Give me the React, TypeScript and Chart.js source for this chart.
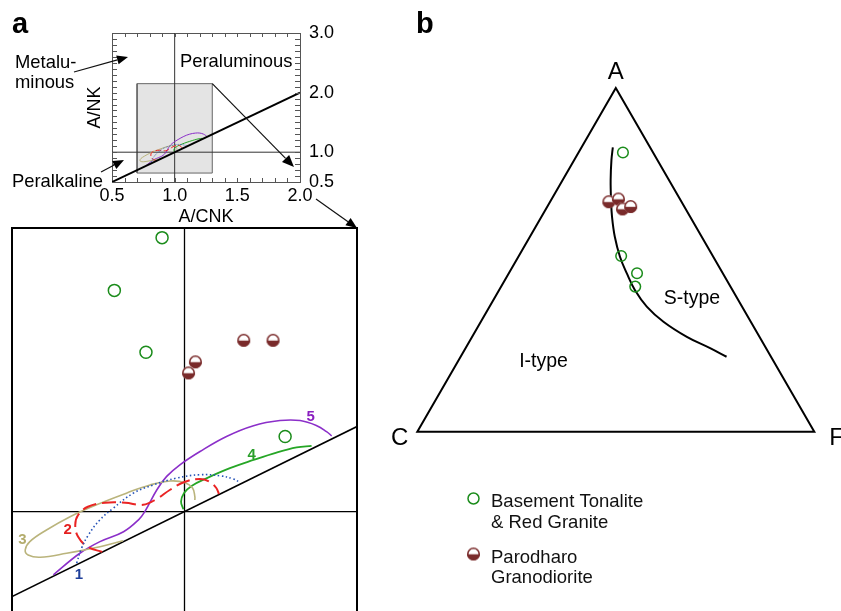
import React, { useEffect, useRef } from "react";
import { Chart, registerables } from "chart.js";

Chart.register(...registerables);

const FONT = "'Liberation Sans', Arial, Helvetica, sans-serif";

// ===== Panel a : A/CNK vs A/NK =====
const insetXTicks = [0.5, 1.0, 1.5, 2.0];
const insetYTicks = [0.5, 1.0, 2.0, 3.0];
const insetXRange = [0.5, 2.0];
const insetYRange = [0.5, 3.0];
const minorTickStep = 0.1;
const zoomBoxX = [0.7, 1.3];
const zoomBoxY = [0.65, 2.15];
const zoomXRange = [0.7, 1.3];
const zoomYRange = [0.6, 2.0];
const refValue = 1.0;

const tonaliteACNK = [0.961, 0.878, 0.933, 1.175];
const tonaliteANK = [1.966, 1.78, 1.562, 1.265];
const parodharoACNK = [1.103, 1.154, 1.019, 1.007];
const parodharoANK = [1.604, 1.604, 1.528, 1.489];

const trend1X = [0.8125, 0.821, 0.833, 0.853, 0.876, 0.911, 0.946, 0.986, 1.027, 1.062, 1.085, 1.097];
const trend1Y = [0.818, 0.871, 0.918, 0.971, 1.012, 1.065, 1.094, 1.118, 1.13, 1.126, 1.115, 1.102];
const trend2X = [0.857, 0.832, 0.815, 0.81, 0.815, 0.832, 0.862, 0.897, 0.928, 0.952, 0.975, 1.001, 1.027, 1.044, 1.055, 1.06];
const trend2Y = [0.858, 0.875, 0.911, 0.953, 0.988, 1.017, 1.031, 1.031, 1.024, 1.045, 1.077, 1.105, 1.115, 1.105, 1.084, 1.062];
const trend3X = [0.893, 0.853, 0.795, 0.749, 0.728, 0.723, 0.731, 0.76, 0.801, 0.847, 0.899, 0.94, 0.975, 1.001, 1.014, 1.018, 1.018];
const trend3Y = [0.897, 0.876, 0.853, 0.839, 0.847, 0.865, 0.894, 0.935, 0.982, 1.024, 1.065, 1.094, 1.108, 1.102, 1.083, 1.053, 1.041];
const trend4X = [0.998, 0.994, 0.999, 1.013, 1.039, 1.079, 1.12, 1.16, 1.195, 1.221];
const trend4Y = [1.008, 1.035, 1.065, 1.091, 1.118, 1.153, 1.182, 1.208, 1.226, 1.232];
const trend5X = [0.772, 0.818, 0.853, 0.894, 0.92, 0.931, 0.952, 0.969, 0.992, 1.027, 1.073, 1.12, 1.166, 1.201, 1.23, 1.247, 1.256];
const trend5Y = [0.777, 0.853, 0.894, 0.929, 0.971, 1.0, 1.077, 1.124, 1.165, 1.212, 1.265, 1.303, 1.321, 1.321, 1.303, 1.282, 1.267];

const trendLabels = ["1", "2", "3", "4", "5"];
const trendLabelX = [0.8165, 0.797, 0.718, 1.117, 1.2195];
const trendLabelY = [0.78, 0.939, 0.905, 1.204, 1.339];

// ===== Panel b : ACF ternary (%) =====
const bTonaliteA = [81.2, 51.1, 46.1, 42.2];
const bTonaliteC = [7.6, 23.1, 21.6, 24.0];
const bTonaliteF = [11.2, 25.8, 32.3, 33.8];
const bParodharoA = [66.9, 67.7, 64.8, 65.5];
const bParodharoC = [18.3, 15.5, 15.9, 13.5];
const bParodharoF = [14.8, 16.8, 19.3, 21.0];
const boundaryA = [82.7, 79.0, 73.2, 67.4, 62.5, 56.7, 50.9, 46.1, 41.2, 36.4, 32.0, 27.6, 24.3, 21.8];
const boundaryC = [9.4, 11.6, 14.7, 17.5, 19.7, 21.9, 23.5, 24.2, 24.6, 24.0, 22.0, 18.3, 14.1, 11.2];
const boundaryF = [7.9, 9.4, 12.1, 15.1, 17.8, 21.4, 25.6, 29.7, 34.2, 39.6, 46.0, 54.1, 61.6, 67.0];
const triangleA = [0, 0, 100, 0, 0];
const triangleC = [100, 0, 0, 100, 0];
const triangleF = [0, 100, 0, 0, 100];
const fieldLabels = ["I-type", "S-type"];
const fieldLabelA = [20.6, 39.0];
const fieldLabelC = [57.9, 11.3];
const fieldLabelF = [21.5, 49.7];
const legendLabels = [["Basement Tonalite", "& Red Granite"], ["Parodharo", "Granodiorite"]];

// ===== styles =====
const GREEN = "#1b8c1b";
const BROWN = "#7a2b2b";
const trendStyles = [
  { color: "#2553b8", label: "#1f3f9a", width: 1.6, dash: [1.5, 2.5] },
  { color: "#ea2424", label: "#e42020", width: 2, dash: [14, 6] },
  { color: "#bab47c", label: "#b3ac6c", width: 1.6, dash: [] as number[] },
  { color: "#26a626", label: "#2a9f2a", width: 1.8, dash: [] as number[] },
  { color: "#8b2fc9", label: "#8a1fc0", width: 1.6, dash: [] as number[] },
];
const trendSeries = [
  [trend1X, trend1Y],
  [trend2X, trend2Y],
  [trend3X, trend3Y],
  [trend4X, trend4Y],
  [trend5X, trend5Y],
];

function pts(xs: number[], ys: number[]) {
  return xs.map((x, i) => ({ x, y: ys[i] }));
}
function tern(a: number, c: number, f: number) {
  const s = a + c + f;
  return { x: (f + a / 2) / s, y: ((a / s) * Math.sqrt(3)) / 2 };
}
function ternPts(A: number[], C: number[], F: number[]) {
  return A.map((a, i) => tern(a, C[i], F[i]));
}

function makeHalfMarker(d: number) {
  const c = document.createElement("canvas");
  const s = d + 2;
  c.width = s;
  c.height = s;
  const g = c.getContext("2d")!;
  const cx = s / 2;
  const r = d / 2;
  g.beginPath();
  g.arc(cx, cx, r, 0, Math.PI * 2);
  g.fillStyle = "#fff";
  g.fill();
  g.save();
  g.beginPath();
  g.arc(cx, cx, r, 0, Math.PI * 2);
  g.clip();
  g.fillStyle = BROWN;
  g.fillRect(0, cx + 0.3, s, s);
  g.restore();
  g.beginPath();
  g.arc(cx, cx, r - 0.8, 0, Math.PI * 2);
  g.strokeStyle = BROWN;
  g.lineWidth = 1.6;
  g.stroke();
  return c;
}

function arrow(ctx: CanvasRenderingContext2D, x1: number, y1: number, x2: number, y2: number, head = 11, w = 4.5) {
  const ang = Math.atan2(y2 - y1, x2 - x1);
  const bx = x2 - head * Math.cos(ang);
  const by = y2 - head * Math.sin(ang);
  ctx.beginPath();
  ctx.moveTo(x1, y1);
  ctx.lineTo(bx, by);
  ctx.stroke();
  ctx.beginPath();
  ctx.moveTo(x2, y2);
  ctx.lineTo(bx + w * Math.sin(ang), by - w * Math.cos(ang));
  ctx.lineTo(bx - w * Math.sin(ang), by + w * Math.cos(ang));
  ctx.closePath();
  ctx.fill();
}

function lineDs(data: any[], color: string, width: number, dash: number[], order: number, tension = 0, extra: any = {}) {
  return {
    type: "line",
    data,
    borderColor: color,
    borderWidth: width,
    borderDash: dash,
    pointRadius: 0,
    pointHoverRadius: 0,
    fill: false,
    tension,
    order,
    ...extra,
  };
}

const hiddenAxis = (pos: string, min: number, max: number, color: string, width: number) => ({
  type: "linear",
  position: pos,
  min,
  max,
  ticks: { display: false },
  grid: { display: false, drawTicks: false },
  border: { display: true, color, width },
  afterFit: (s: any) => {
    if (pos === "top" || pos === "bottom") s.height = 0;
    else s.width = 0;
  },
});

function makeInset(canvas: HTMLCanvasElement) {
  const datasets: any[] = [];
  datasets.push(lineDs([{ x: refValue, y: insetYRange[0] }, { x: refValue, y: insetYRange[1] }], "#333", 1, [], 2));
  datasets.push(lineDs([{ x: insetXRange[0], y: refValue }, { x: insetXRange[1], y: refValue }], "#333", 1, [], 2));
  datasets.push(lineDs([{ x: insetXRange[0], y: insetXRange[0] }, { x: insetXRange[1], y: insetXRange[1] }], "#000", 2, [], 1));
  trendSeries.forEach(([xs, ys], i) => {
    const st = trendStyles[i];
    datasets.push(lineDs(pts(xs, ys), st.color, 1, st.dash.map((d) => d / 2.5), 1, 0.4));
  });
  datasets.push(
    lineDs(
      [
        { x: zoomBoxX[0], y: zoomBoxY[0] },
        { x: zoomBoxX[1], y: zoomBoxY[0] },
        { x: zoomBoxX[1], y: zoomBoxY[1] },
        { x: zoomBoxX[0], y: zoomBoxY[1] },
        { x: zoomBoxX[0], y: zoomBoxY[0] },
      ],
      "#666",
      1,
      [],
      10,
      0,
      { fill: "shape", backgroundColor: "#e4e4e4" }
    )
  );

  const tickFont = { family: FONT, size: 18 };
  const plugin = {
    id: "insetDecor",
    afterDraw(chart: any) {
      const { ctx, chartArea: ca, scales } = chart;
      const x = scales.x;
      const y = scales.y;
      ctx.save();
      ctx.strokeStyle = "#555";
      ctx.lineWidth = 1;
      const nx = Math.round((insetXRange[1] - insetXRange[0]) / minorTickStep);
      for (let i = 1; i < nx; i++) {
        const px = Math.round(x.getPixelForValue(insetXRange[0] + i * minorTickStep)) + 0.5;
        ctx.beginPath();
        ctx.moveTo(px, ca.bottom);
        ctx.lineTo(px, ca.bottom - 4);
        ctx.moveTo(px, ca.top);
        ctx.lineTo(px, ca.top + 4);
        ctx.stroke();
      }
      const ny = Math.round((insetYRange[1] - insetYRange[0]) / minorTickStep);
      for (let i = 1; i < ny; i++) {
        const py = Math.round(y.getPixelForValue(insetYRange[0] + i * minorTickStep)) + 0.5;
        ctx.beginPath();
        ctx.moveTo(ca.left, py);
        ctx.lineTo(ca.left + 5, py);
        ctx.moveTo(ca.right, py);
        ctx.lineTo(ca.right - 5, py);
        ctx.stroke();
      }
      // annotations
      ctx.fillStyle = "#000";
      ctx.textBaseline = "alphabetic";
      ctx.textAlign = "left";
      ctx.font = `bold 29px ${FONT}`;
      ctx.fillText("a", 12, 33);
      ctx.font = `18.4px ${FONT}`;
      ctx.fillText("Metalu-", 15, 68);
      ctx.fillText("minous", 15, 88);
      ctx.fillText("Peraluminous", 180, 67);
      ctx.fillText("Peralkaline", 12, 187);
      ctx.strokeStyle = "#111";
      ctx.fillStyle = "#000";
      ctx.lineWidth = 1.2;
      arrow(ctx, 74, 72, 128, 57);
      arrow(ctx, 101, 172, 124, 160);
      arrow(ctx, x.getPixelForValue(zoomBoxX[1]), y.getPixelForValue(zoomBoxY[1]), x.getPixelForValue(1.952), y.getPixelForValue(0.752), 12, 5);
      arrow(ctx, 316, 199, 357, 228, 11, 4.5);
      ctx.restore();
    },
  };

  return new Chart(canvas, {
    type: "scatter",
    data: { datasets },
    options: {
      animation: false,
      responsive: false,
      devicePixelRatio: 1,
      events: [],
      layout: { autoPadding: false, padding: { left: 84, top: 33, right: 30, bottom: 4 } },
      plugins: { legend: { display: false }, tooltip: { enabled: false } },
      scales: {
        x: {
          type: "linear",
          position: "bottom",
          min: insetXRange[0],
          max: insetXRange[1],
          afterBuildTicks: (s: any) => {
            s.ticks = insetXTicks.map((v) => ({ value: v }));
          },
          ticks: { callback: (v: any) => Number(v).toFixed(1), font: tickFont, color: "#000", padding: 3, autoSkip: false, maxRotation: 0 },
          grid: { display: false, drawTicks: false },
          border: { display: true, color: "#555", width: 1 },
          title: { display: true, text: "A/CNK", font: tickFont, color: "#000", padding: 0 },
          afterFit: (s: any) => {
            s.height = 46;
          },
        },
        x2: hiddenAxis("top", insetXRange[0], insetXRange[1], "#555", 1),
        y: {
          type: "linear",
          position: "right",
          min: insetYRange[0],
          max: insetYRange[1],
          afterBuildTicks: (s: any) => {
            s.ticks = insetYTicks.map((v) => ({ value: v }));
          },
          ticks: { callback: (v: any) => Number(v).toFixed(1), font: tickFont, color: "#000", padding: 9, autoSkip: false },
          grid: { display: false, drawTicks: false },
          border: { display: true, color: "#555", width: 1 },
          afterFit: (s: any) => {
            s.width = 40;
          },
        },
        y2: {
          type: "linear",
          position: "left",
          min: insetYRange[0],
          max: insetYRange[1],
          ticks: { display: false },
          grid: { display: false, drawTicks: false },
          border: { display: true, color: "#555", width: 1 },
          title: { display: true, text: "A/NK", font: tickFont, color: "#000", padding: 0 },
          afterFit: (s: any) => {
            s.width = 28;
          },
        },
      },
    } as any,
    plugins: [plugin],
  } as any);
}

function makeZoom(canvas: HTMLCanvasElement, half: HTMLCanvasElement) {
  const datasets: any[] = [];
  datasets.push({
    type: "scatter",
    data: pts(tonaliteACNK, tonaliteANK),
    pointStyle: "circle",
    pointRadius: 6,
    borderColor: GREEN,
    borderWidth: 1.5,
    backgroundColor: "rgba(255,255,255,0)",
    order: 0,
  });
  datasets.push({
    type: "scatter",
    data: pts(parodharoACNK, parodharoANK),
    pointStyle: half,
    pointRadius: 7,
    order: 0,
  });
  trendSeries.forEach(([xs, ys], i) => {
    const st = trendStyles[i];
    datasets.push(lineDs(pts(xs, ys), st.color, st.width, st.dash, 1, 0.4));
  });
  datasets.push(lineDs([{ x: refValue, y: zoomYRange[0] }, { x: refValue, y: zoomYRange[1] }], "#000", 1.3, [], 3));
  datasets.push(lineDs([{ x: zoomXRange[0], y: refValue }, { x: zoomXRange[1], y: refValue }], "#000", 1.3, [], 3));
  datasets.push(lineDs([{ x: zoomXRange[0], y: zoomXRange[0] }, { x: zoomXRange[1], y: zoomXRange[1] }], "#000", 1.6, [], 2));

  const plugin = {
    id: "zoomLabels",
    afterDatasetsDraw(chart: any) {
      const { ctx, scales } = chart;
      ctx.save();
      ctx.font = `bold 15px ${FONT}`;
      ctx.textAlign = "center";
      ctx.textBaseline = "middle";
      trendLabels.forEach((t, i) => {
        ctx.fillStyle = trendStyles[i].label;
        ctx.fillText(t, scales.x.getPixelForValue(trendLabelX[i]), scales.y.getPixelForValue(trendLabelY[i]) + 1);
      });
      ctx.restore();
    },
  };

  return new Chart(canvas, {
    type: "scatter",
    data: { datasets },
    options: {
      animation: false,
      responsive: false,
      devicePixelRatio: 1,
      events: [],
      layout: { autoPadding: false, padding: { left: 12, top: 2, right: 13, bottom: 2 } },
      plugins: { legend: { display: false }, tooltip: { enabled: false } },
      scales: {
        x: hiddenAxis("bottom", zoomXRange[0], zoomXRange[1], "#000", 2),
        x2: hiddenAxis("top", zoomXRange[0], zoomXRange[1], "#000", 2),
        y: hiddenAxis("left", zoomYRange[0], zoomYRange[1], "#000", 2),
        y2: hiddenAxis("right", zoomYRange[0], zoomYRange[1], "#000", 2),
      },
    } as any,
    plugins: [plugin],
  } as any);
}

function makeTernary(canvas: HTMLCanvasElement, half: HTMLCanvasElement, OX: number) {
  const datasets: any[] = [];
  datasets.push({
    type: "scatter",
    data: ternPts(bTonaliteA, bTonaliteC, bTonaliteF),
    pointStyle: "circle",
    pointRadius: 5.3,
    borderColor: GREEN,
    borderWidth: 1.5,
    backgroundColor: "rgba(255,255,255,0)",
    order: 0,
    clip: false,
  });
  datasets.push({
    type: "scatter",
    data: ternPts(bParodharoA, bParodharoC, bParodharoF),
    pointStyle: half,
    pointRadius: 7,
    order: 0,
    clip: false,
  });
  datasets.push(lineDs(ternPts(boundaryA, boundaryC, boundaryF), "#000", 2, [], 1, 0.4, { clip: false }));
  datasets.push(lineDs(ternPts(triangleA, triangleC, triangleF), "#000", 2, [], 2, 0, { clip: false, borderJoinStyle: "miter" }));

  const plugin = {
    id: "ternDecor",
    afterDraw(chart: any) {
      const { ctx, scales } = chart;
      const P = (a: number, c: number, f: number) => {
        const t = tern(a, c, f);
        return [scales.x.getPixelForValue(t.x), scales.y.getPixelForValue(t.y)];
      };
      ctx.save();
      ctx.fillStyle = "#000";
      ctx.textBaseline = "alphabetic";
      ctx.textAlign = "left";
      ctx.font = `bold 29px ${FONT}`;
      ctx.fillText("b", 416 - OX, 33);
      ctx.font = `24px ${FONT}`;
      ctx.textBaseline = "middle";
      const [ax, ay] = P(100, 0, 0);
      ctx.textAlign = "center";
      ctx.fillText("A", ax, ay - 15.5);
      const [cx, cy] = P(0, 100, 0);
      ctx.textAlign = "right";
      ctx.fillText("C", cx - 9, cy + 6.5);
      const [fx, fy] = P(0, 0, 100);
      ctx.textAlign = "left";
      ctx.fillText("F", fx + 15, fy + 6.5);
      ctx.font = `19.5px ${FONT}`;
      ctx.textAlign = "center";
      fieldLabels.forEach((t, i) => {
        const [lx, ly] = P(fieldLabelA[i], fieldLabelC[i], fieldLabelF[i]);
        ctx.fillText(t, lx, ly + 1);
      });
      // legend
      ctx.textAlign = "left";
      ctx.textBaseline = "alphabetic";
      ctx.font = `18.5px ${FONT}`;
      ctx.strokeStyle = GREEN;
      ctx.lineWidth = 1.5;
      ctx.beginPath();
      ctx.arc(473.5 - OX, 498.5, 5.5, 0, Math.PI * 2);
      ctx.stroke();
      ctx.drawImage(half, 473.5 - OX - half.width / 2, 554 - half.height / 2);
      ctx.fillStyle = "#111";
      ctx.fillText(legendLabels[0][0], 491 - OX, 507);
      ctx.fillText(legendLabels[0][1], 491 - OX, 527.5);
      ctx.fillText(legendLabels[1][0], 491 - OX, 563);
      ctx.fillText(legendLabels[1][1], 491 - OX, 583);
      ctx.restore();
    },
  };

  return new Chart(canvas, {
    type: "scatter",
    data: { datasets },
    options: {
      animation: false,
      responsive: false,
      devicePixelRatio: 1,
      events: [],
      layout: { autoPadding: false, padding: { left: 417.3 - OX, top: 87.9, right: OX + 480 - 814.3, bottom: 179.3 } },
      plugins: { legend: { display: false }, tooltip: { enabled: false } },
      scales: {
        x: { type: "linear", display: false, min: 0, max: 1 },
        y: { type: "linear", display: false, min: 0, max: Math.sqrt(3) / 2 },
      },
    } as any,
    plugins: [plugin],
  } as any);
}

const TERN_LEFT = 375;

export default function App() {
  const insetRef = useRef<HTMLCanvasElement>(null);
  const zoomRef = useRef<HTMLCanvasElement>(null);
  const ternRef = useRef<HTMLCanvasElement>(null);

  useEffect(() => {
    const half = makeHalfMarker(13);
    const charts = [
      makeZoom(zoomRef.current!, half),
      makeInset(insetRef.current!),
      makeTernary(ternRef.current!, half, TERN_LEFT),
    ];
    return () => charts.forEach((c) => c.destroy());
  }, []);

  return (
    <div style={{ position: "absolute", left: 0, top: 0, width: 841, height: 611, overflow: "hidden", background: "#fff" }}>
      <canvas ref={zoomRef} width={370} height={401} style={{ position: "absolute", left: 0, top: 226, width: 370, height: 401 }} />
      <canvas ref={ternRef} width={480} height={611} style={{ position: "absolute", left: TERN_LEFT, top: 0, width: 480, height: 611 }} />
      <canvas ref={insetRef} width={370} height={232} style={{ position: "absolute", left: 0, top: 0, width: 370, height: 232 }} />
    </div>
  );
}
